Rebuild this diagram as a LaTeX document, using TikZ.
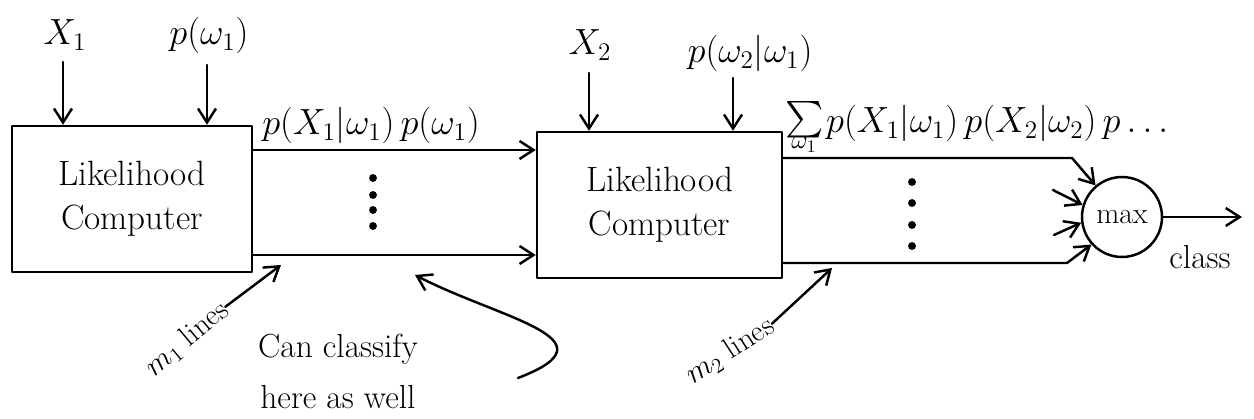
\documentclass[tikz,border=0pt]{standalone}
\usepackage{exscale}
\usetikzlibrary{arrows.meta}

\tikzset{
  pen/.style={line width=1.4pt, line cap=round, line join=round},
  arr/.style={pen, -{Straight Barb[length=2.8mm,width=3.6mm,line width=1.4pt]}},
  unit/.style={draw, pen, minimum width=4.8cm, minimum height=2.92cm,
               align=center, inner sep=0pt,
               font=\fontsize{20}{25}\selectfont},
  decider/.style={draw, pen, circle, minimum size=1.6cm, inner sep=0pt,
                  font=\fontsize{17}{20}\selectfont},
  lab/.style={anchor=base, inner sep=1pt, font=\fontsize{20}{24}\selectfont},
  note/.style={inner sep=0pt, font=\fontsize{17}{20}\selectfont},
  dot/.style={fill, circle, inner sep=0pt, minimum size=4.5pt}
}

\begin{document}
\begin{tikzpicture}[x=0.02cm, y=0.02cm]
  \useasboundingbox (0,0) rectangle (1254,419);

  % the two likelihood stages and the decision
  \node[unit] (b1) at (132,220) {Likelihood\\Computer};
  \node[unit, minimum width=4.9cm] (b2) at (659.5,214) {Likelihood\\Computer};
  \node[decider] (mx) at (1122,202) {max};

  % inputs of the first stage
  \node[lab] (x1) at (65,374) {$X_1$};
  \node[lab] (pw1) at (209,374) {$p(\omega_1)$};
  \coordinate (x1a) at (63,357);
  \coordinate (pw1a) at (207,354);
  \draw[arr] (x1a) -- (x1a |- b1.north);
  \draw[arr] (pw1a) -- (pw1a |- b1.north);

  % inputs of the second stage
  \node[lab] (x2) at (590,364) {$X_2$};
  \node[lab] (pw2) at (750,356) {$p(\omega_2|\omega_1)$};
  \coordinate (x2a) at (589,346);
  \coordinate (pw2a) at (733,341);
  \draw[arr] (x2a) -- (x2a |- b2.north);
  \draw[arr] (pw2a) -- (pw2a |- b2.north);

  % m1 lines between the stages
  \coordinate (ya) at (0,269);
  \coordinate (yb) at (0,164);
  \draw[arr] (b1.east |- ya) -- (b2.west |- ya);
  \draw[arr] (b1.east |- yb) -- (b2.west |- yb);
  \foreach \py in {178,195,210,226} \node[dot] at (373,419-\py) {};
  \node[lab, anchor=base] (l1) at (371,284) {$p(X_1|\omega_1)\,p(\omega_1)$};

  % m2 lines into the max unit
  \coordinate (yc) at (0,261);
  \coordinate (yd) at (0,156);
  \coordinate (kc) at (1072,261);
  \coordinate (kd) at (1067,156);
  \draw[arr] (b2.east |- yc) -- (kc) -- (mx.130);
  \draw[arr] (b2.east |- yd) -- (kd) -- (mx.222);
  \coordinate (s1) at (1053,229);
  \coordinate (s2) at (1054,184);
  \draw[arr] (s1) -- (mx.163);
  \draw[arr] (s2) -- (mx.188);
  \foreach \py in {182,203,225,246} \node[dot] at (912,419-\py) {};

  % sum over omega_1 of the joint likelihood
  \node[lab, anchor=base] (sg) at (805,290) {$\sum$};
  \node[lab, anchor=base, font=\fontsize{14}{16}\selectfont] (sw) at (804,270) {$\omega_1$};
  \node[lab, anchor=base west] (l2) at (824,286)
    {$p(X_1|\omega_1)\,p(X_2|\omega_2)\,p\ldots$};

  % decision output
  \coordinate (out) at (1242,202);
  \draw[arr] (mx.east) -- (out);
  \node[note, font=\fontsize{19}{22}\selectfont] (cls) at (1200,162) {class};

  % annotations
  \node[note, rotate=40] (n1) at (187,80) {$m_1$ lines};
  \coordinate (n1t) at (281,154);
  \draw[arr] (n1.east) -- (n1t);

  \node[note, rotate=33] (n2) at (730,68) {$m_2$ lines};
  \coordinate (n2t) at (832,151);
  \draw[arr] (n2.east) -- (n2t);

  \node[note, align=center, font=\fontsize{19}{29}\selectfont] (cc) at (338,48)
    {Can classify\\here as well};
  \coordinate (cs) at (518,41);
  \coordinate (ct) at (415,144);
  \draw[arr] (cs) .. controls (620,80) and (500,100) .. (ct);
\end{tikzpicture}
\end{document}
